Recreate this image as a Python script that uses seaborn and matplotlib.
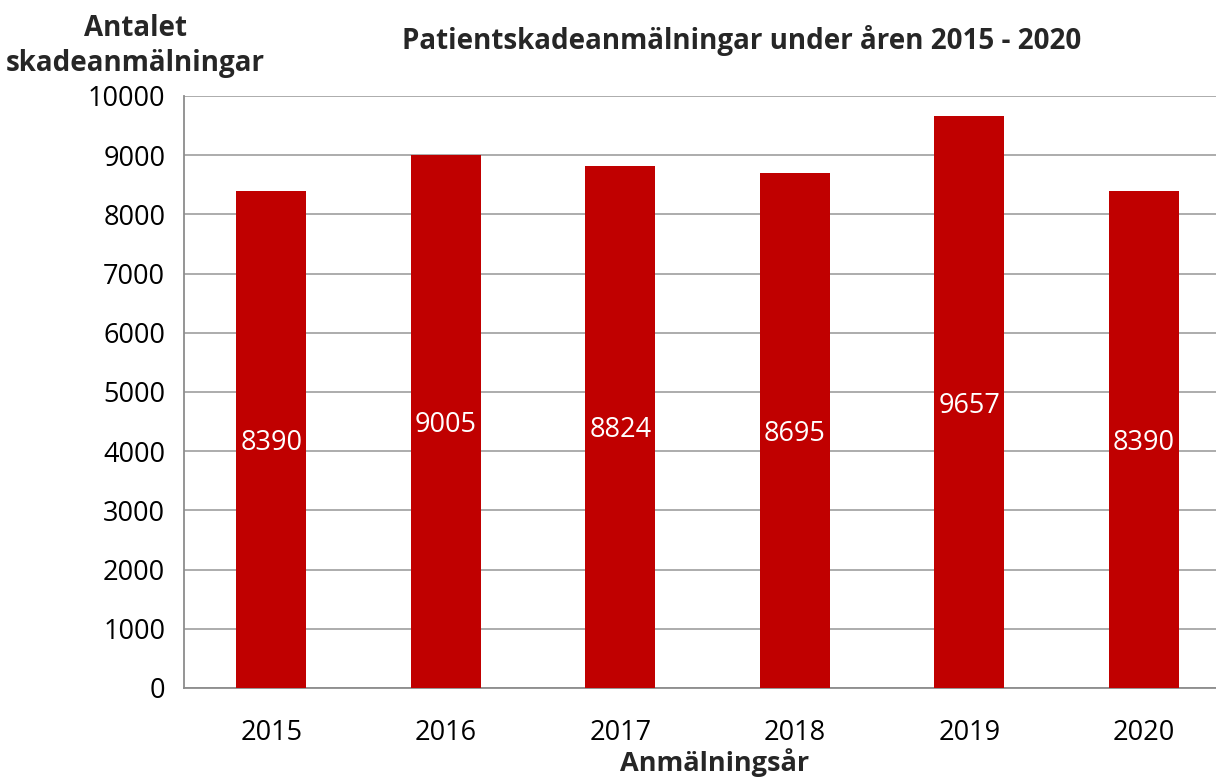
import matplotlib
matplotlib.use("Agg")
import matplotlib.pyplot as plt
import seaborn as sns
import pandas as pd
import numpy as np

years = ["2015", "2016", "2017", "2018", "2019", "2020"]
counts = [8390, 9005, 8824, 8695, 9657, 8390]
yticks = list(range(0, 10001, 1000))

sns.set_theme(style="white")
plt.rcParams['font.family'] = ['Open Sans', 'DejaVu Sans']

df = pd.DataFrame({"year": years, "count": counts})

fig = plt.figure(figsize=(12.16, 7.8), dpi=100)
ax = fig.add_axes([184/1216, 1-688/780, 1047/1216, (688-96)/780])

sns.barplot(data=df, x="year", y="count", color="#C00000", width=0.4,
            saturation=1, ax=ax, zorder=3, linewidth=0)

ax.set_ylim(0, 10000)
ax.set_xlim(-0.5, 5.5)
ax.set_yticks(yticks)
ax.set_yticklabels([str(t) for t in yticks])
ax.grid(axis="y", color="#A6A6A6", linewidth=1.3, zorder=0)
ax.set_axisbelow(True)

ax.tick_params(axis="x", which="major", length=0, labelsize=19.5, pad=22, colors="black")
ax.set_xticks(np.arange(-0.5, 6, 1), minor=True)
ax.tick_params(axis="x", which="minor", length=7.5, width=1.3, color="#8C8C8C", direction="out")
ax.tick_params(axis="y", length=7.5, width=1.3, color="#8C8C8C", direction="out",
               labelsize=19.5, pad=6)
ax.yaxis.set_tick_params(labelcolor="black")

for s in ["top", "right"]:
    ax.spines[s].set_visible(False)
for s in ["left", "bottom"]:
    ax.spines[s].set_color("#8C8C8C")
    ax.spines[s].set_linewidth(1.3)

for i, v in enumerate(counts):
    ax.text(i, v / 2 - 60, str(v), ha="center", va="center", color="white", fontsize=19.5)

ax.set_xlabel("")
ax.set_ylabel("")
fig.text(715/1216, 1-763/780, "Anmälningsår", ha="center", va="center",
         fontsize=19.5, fontweight="bold")
fig.text(135/1216, 1-46/780, "Antalet\nskadeanmälningar", ha="center", va="center",
         fontsize=20, fontweight="bold", linespacing=1.25)
fig.text(742/1216, 1-40/780, "Patientskadeanmälningar under åren 2015 - 2020",
         ha="center", va="center", fontsize=20, fontweight="bold")

fig.savefig("out.png", dpi=100)
